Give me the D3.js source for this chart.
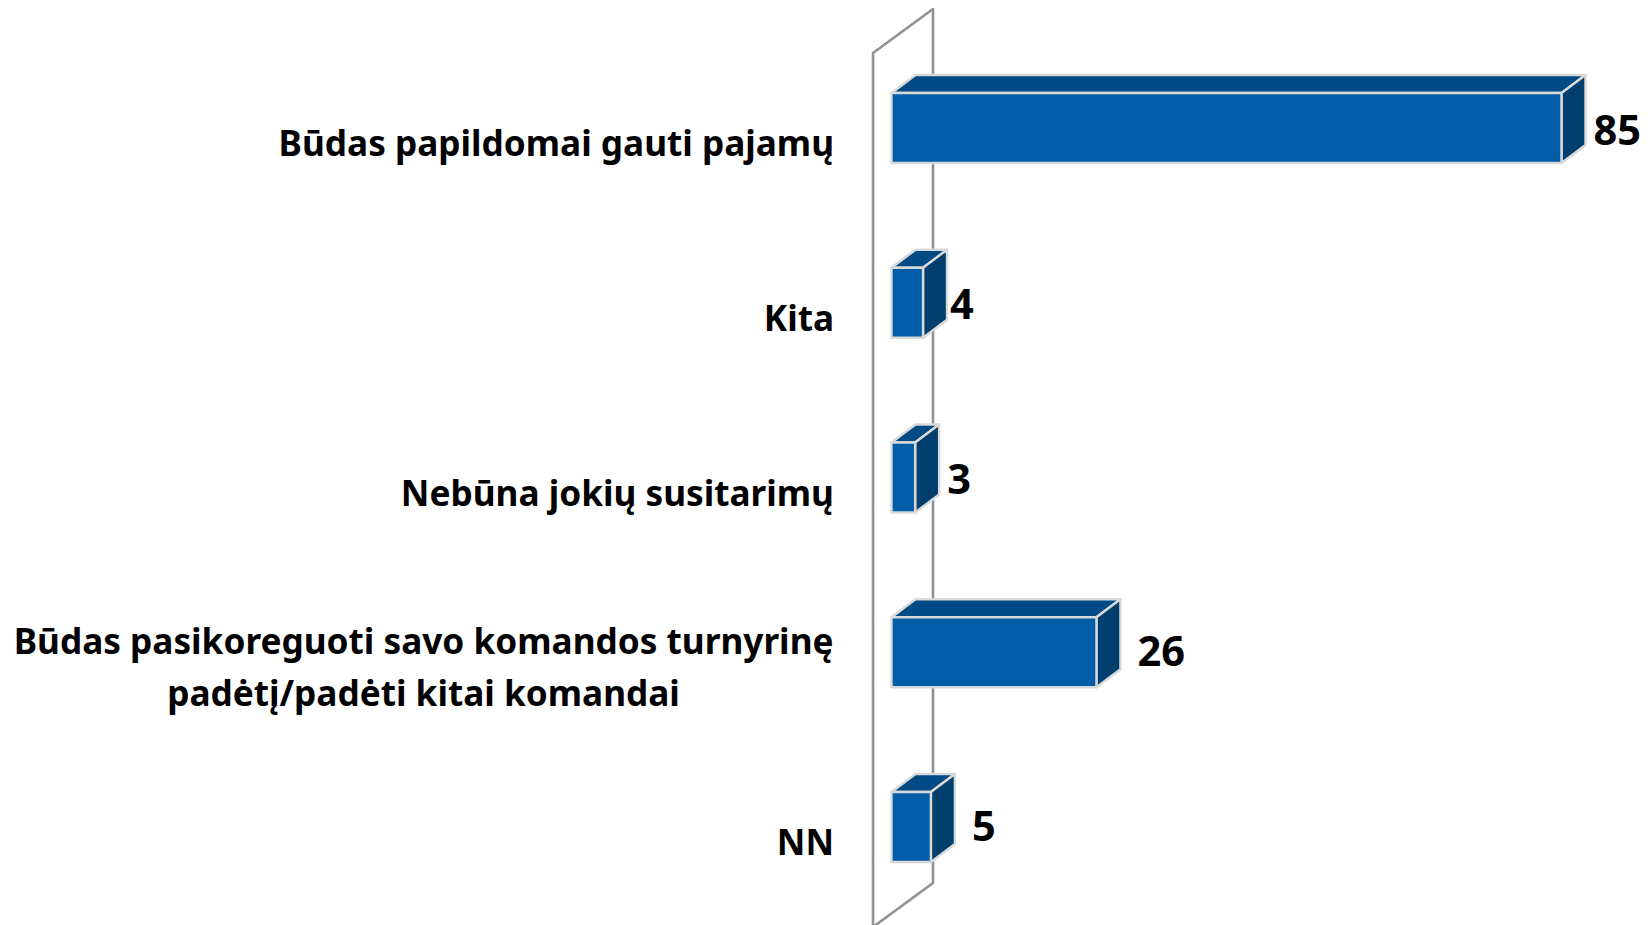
<!DOCTYPE html>
<html lang="lt">
<head>
<meta charset="utf-8">
<style>
html,body{margin:0;padding:0;background:#fff;overflow:hidden}
svg{display:block}
text{font-family:"Noto Sans","Open Sans",sans-serif;font-weight:700;fill:#000}
</style>
<script src="https://cdn.jsdelivr.net/npm/d3@7/dist/d3.min.js"></script>
</head>
<body>
<svg id="chart" width="1651" height="925"></svg>
<script>
const categories = [
  ["Būdas papildomai gauti pajamų"],
  ["Kita"],
  ["Nebūna jokių susitarimų"],
  ["Būdas pasikoreguoti savo komandos turnyrinę", "padėtį/padėti kitai komandai"],
  ["NN"]
];
const values = [85, 4, 3, 26, 5];
const valueDx = [32, 27, 32, 41, 41];
const valueDy = [17, 16, 16, 14, 14];
const labelDy = [28, 28, 28, 0, 28];

const svg = d3.select("#chart");
const x = d3.scaleLinear().domain([0, 85]).range([891.5, 1561.5]);
const y0 = d3.scalePoint().domain(d3.range(values.length)).range([93, 792]);
const barH = 70, dep = {x: 24, y: -18}, wall = {x: 60, y: -44};

// wall
const wallX = 873;
const wp = d3.path();
wp.moveTo(wallX, 935); wp.lineTo(wallX, 53); wp.lineTo(wallX + wall.x, 53 + wall.y);
wp.lineTo(wallX + wall.x, 883); wp.lineTo(wallX + wall.x - 60, 883 - wall.y);
svg.append("path").attr("d", wp.toString()).attr("fill", "none")
  .attr("stroke", "#929292").attr("stroke-width", 2.6).attr("stroke-linejoin", "round");

const poly = pts => "M" + pts.map(p => p.join(",")).join("L") + "Z";
const bars = svg.selectAll("g.bar").data(values).join("g").attr("class", "bar");
const style = s => s.attr("stroke", "#d9d9d9").attr("stroke-width", 2.4).attr("stroke-linejoin", "round");
bars.append("path").attr("d", (d, i) => { const a = x(0), b = x(d), t = y0(i);
  return poly([[a, t], [a + dep.x, t + dep.y], [b + dep.x, t + dep.y], [b, t]]); })
  .attr("fill", "#004a85").call(style);
bars.append("path").attr("d", (d, i) => { const b = x(d), t = y0(i);
  return poly([[b, t], [b + dep.x, t + dep.y], [b + dep.x, t + dep.y + barH], [b, t + barH]]); })
  .attr("fill", "#003e6e").call(style);
bars.append("rect").attr("x", x(0)).attr("y", (d, i) => y0(i))
  .attr("width", d => x(d) - x(0)).attr("height", barH).attr("fill", "#005da8").call(style);

// value labels
svg.selectAll("text.val").data(values).join("text").attr("class", "val")
  .attr("x", (d, i) => x(d) + valueDx[i]).attr("y", (d, i) => y0(i) + barH / 2 + valueDy[i])
  .attr("font-size", 41.5).text(d => d);

// category labels
const rightEdge = 834, lineH = 52;
categories.forEach((lines, i) => {
  const base = i === 3 ? 654 : y0(i) + barH / 2 + labelDy[i];
  const cx = i === 3 ? 423.5 : rightEdge;
  lines.forEach((t, j) => {
    svg.append("text").attr("class", "cat")
      .attr("x", cx).attr("y", base + j * lineH)
      .attr("text-anchor", i === 3 ? "middle" : "end")
      .attr("font-size", 35.2).text(t);
  });
});
</script>
</body>
</html>
